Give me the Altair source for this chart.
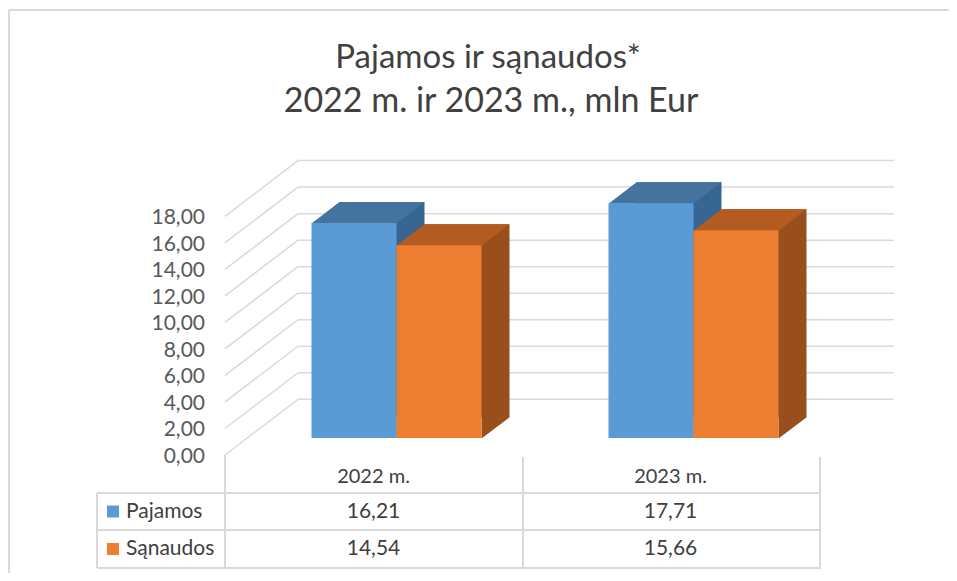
import altair as alt
import pandas as pd

# ---------------- data ----------------
YEARS = ["2022 m.", "2023 m."]
SERIES = ["Pajamos", "Sąnaudos"]
PAJAMOS = [16.21, 17.71]
SANAUDOS = [14.54, 15.66]
TICKS = [0, 2, 4, 6, 8, 10, 12, 14, 16, 18]
TICK_LABELS = ["0,00", "2,00", "4,00", "6,00", "8,00",
               "10,00", "12,00", "14,00", "16,00", "18,00"]
TITLE = ["Pajamos ir sąnaudos*", "2022 m. ir 2023 m., mln Eur"]

FRONT = {"Pajamos": "#5B9BD5", "Sąnaudos": "#ED7D31"}
TOP = {"Pajamos": "#44739F", "Sąnaudos": "#B45B21"}
SIDE = {"Pajamos": "#386692", "Sąnaudos": "#984F1B"}

rows = []
for s, vals in zip(SERIES, [PAJAMOS, SANAUDOS]):
    for y, v in zip(YEARS, vals):
        rows.append({"year": y, "series": s, "value": v, "zero": 0})
df = pd.DataFrame(rows)
ticks_df = pd.DataFrame({"v": TICKS, "label": TICK_LABELS})
years_df = pd.DataFrame({"year": YEARS})
one = pd.DataFrame({"a": [0]})

W, H = 941, 565


def px(p):
    """page pixel -> chart pixel (8px page margin)"""
    return p - 8


FONT = "Lato"
GRID = "#D9D9D9"
TXT = "#404040"
BAR_W = 85
DEPTH_X, DEPTH_Y = 28, -21

xs = alt.Scale(domain=YEARS, range=[px(248), px(842)], paddingInner=0, paddingOuter=0)
ys = alt.Scale(domain=[0, 18], range=[px(438), px(199.3)], nice=False, zero=True)
X = alt.X("year:N", scale=xs, axis=None, sort=YEARS)
Y = alt.Y("value:Q", scale=ys, axis=None)
Y0 = alt.Y2("zero:Q")
Yzero = alt.Y("zero:Q", scale=ys, axis=None)

layers = []

# frame (top and left edges only; the rest lies outside the picture)
layers.append(alt.Chart(one).mark_rule(color=GRID, strokeWidth=2).encode(
    x=alt.value(1), x2=alt.value(W + 40), y=alt.value(px(10))))
layers.append(alt.Chart(one).mark_rule(color=GRID, strokeWidth=2).encode(
    x=alt.value(1), y=alt.value(px(10)), y2=alt.value(H + 40)))

# back wall gridlines
layers.append(alt.Chart(ticks_df).mark_rule(color=GRID, strokeWidth=1.5, yOffset=-38.7).encode(
    x=alt.value(px(298)), x2=alt.value(px(894)), y=alt.Y("v:Q", scale=ys, axis=None)))
# side wall diagonals
layers.append(alt.Chart(ticks_df).mark_rule(color=GRID, strokeWidth=1.5, yOffset=17, y2Offset=-38.7).encode(
    x=alt.value(px(225)), x2=alt.value(px(298)),
    y=alt.Y("v:Q", scale=ys, axis=None), y2=alt.Y2("v:Q")))
# y tick labels
layers.append(alt.Chart(ticks_df).mark_text(align="right", baseline="middle", dy=19,
                                            fontSize=21, font=FONT, color="#595959").encode(
    x=alt.value(px(205)), y=alt.Y("v:Q", scale=ys, axis=None), text="label:N"))


# table lines
def hline(y, x1, x2):
    return alt.Chart(one).mark_rule(color=GRID, strokeWidth=2).encode(
        x=alt.value(px(x1)), x2=alt.value(px(x2)), y=alt.value(px(y)))


def vline(x, y1, y2):
    return alt.Chart(one).mark_rule(color=GRID, strokeWidth=2).encode(
        x=alt.value(px(x)), y=alt.value(px(y1)), y2=alt.value(px(y2)))


for yy in [493, 530, 568]:
    layers.append(hline(yy, 97, 821))
layers.append(vline(97, 493, 568))
layers.append(vline(225, 455, 568))
layers.append(vline(523, 457, 568))
layers.append(vline(820, 457, 568))

# bars (pseudo 3D)
for s, dx in zip(SERIES, [-BAR_W / 2, BAR_W / 2]):
    base = alt.Chart(df).transform_filter(alt.datum.series == s)
    depth = base.mark_bar(width=BAR_W, color=SIDE[s],
                          xOffset=dx + DEPTH_X, x2Offset=dx + DEPTH_X,
                          yOffset=DEPTH_Y, y2Offset=DEPTH_Y).encode(x=X, y=Y, y2=Y0)
    tri = base.mark_point(shape="M42.5,0.5 L71,-21 L42.5,-21 Z", size=4, filled=True,
                          fill=SIDE[s], opacity=1, strokeWidth=0, xOffset=dx).encode(x=X, y=Yzero)
    top = base.mark_point(shape="M-42.5,0.5 L42.5,0.5 L70.5,-21 L-14.5,-21 Z", size=4, filled=True,
                          fill=TOP[s], opacity=1, strokeWidth=0, xOffset=dx).encode(x=X, y=Y)
    front = base.mark_bar(width=BAR_W, color=FRONT[s], xOffset=dx, x2Offset=dx).encode(
        x=X, y=Y, y2=Y0)
    layers += [depth, tri, top, front]

# table header
layers.append(alt.Chart(years_df).mark_text(xOffset=-23, baseline="middle", fontSize=20,
                                            font=FONT, color=TXT).encode(
    x=X, y=alt.value(px(477)), text="year:N"))

# table rows
for s, yrow in zip(SERIES, [511.5, 549]):
    base = alt.Chart(df).transform_filter(alt.datum.series == s)
    layers.append(base.transform_calculate(
        label="replace(format(datum.value, '.2f'), '.', ',')").mark_text(
        xOffset=-23, baseline="middle", fontSize=21, font=FONT, color=TXT).encode(
        x=X, y=alt.value(px(yrow)), text="label:N"))
    sd = pd.DataFrame({"series": [s]})
    layers.append(alt.Chart(sd).mark_square(size=144, filled=True, opacity=1, color=FRONT[s]).encode(
        x=alt.value(px(113)), y=alt.value(px(yrow))))
    layers.append(alt.Chart(sd).mark_text(align="left", baseline="middle", fontSize=21,
                                          font=FONT, color=TXT).encode(
        x=alt.value(px(126)), y=alt.value(px(yrow)), text="series:N"))

# title
for t, yb, xc, fs in zip(TITLE, [68, 112], [488, 491], [33, 34]):
    layers.append(alt.Chart(pd.DataFrame({"t": [t]})).mark_text(
        baseline="alphabetic", fontSize=fs, font=FONT, color=TXT).encode(
        x=alt.value(px(xc)), y=alt.value(px(yb)), text="t:N"))

chart = alt.layer(*layers).properties(
    width=W, height=H, padding=0,
    autosize=alt.AutoSizeParams(type="none"),
    background="white",
).configure_view(stroke="transparent", strokeWidth=0)

chart.save("out.html", embed_options={"renderer": "svg", "actions": False})
